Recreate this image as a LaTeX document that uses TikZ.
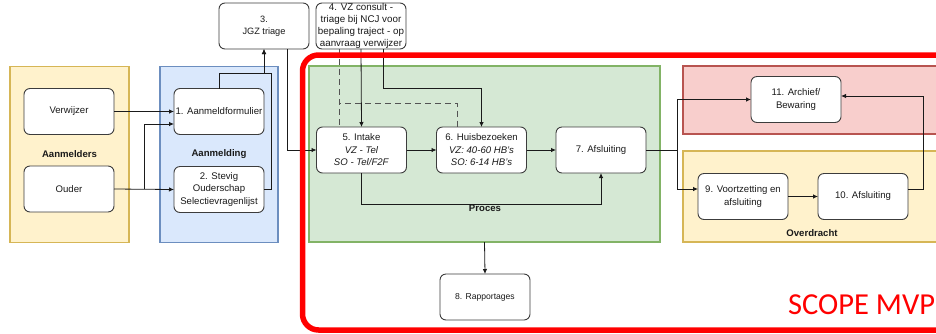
\documentclass[tikz,border=0pt]{standalone}
\usepackage{fontspec}
\setmainfont{Liberation Sans}
\newfontfamily\scopefont{Carlito}
\usetikzlibrary{arrows.meta,calc}
\definecolor{ylfill}{HTML}{FFF2CC}
\definecolor{yldraw}{HTML}{D6B656}
\definecolor{blfill}{HTML}{DAE8FC}
\definecolor{bldraw}{HTML}{6C8EBF}
\definecolor{grfill}{HTML}{D5E8D4}
\definecolor{grdraw}{HTML}{82B366}
\definecolor{rdfill}{HTML}{F8CECC}
\definecolor{rddraw}{HTML}{B85450}
\definecolor{scopered}{HTML}{FF0000}
\definecolor{ink}{HTML}{1A1A1A}
\tikzset{
  box/.style={draw=ink!85, line width=0.9pt, fill=white, rounded corners=6pt,
    minimum width=90pt, minimum height=46pt, inner sep=0pt, outer sep=0pt,
    align=center, text=ink, font=\fontsize{9.6}{12.5}\selectfont},
  container/.style={line width=1.5pt, inner sep=0pt, outer sep=0pt},
  grouplabel/.style={font=\bfseries\fontsize{9.6}{12}\selectfont, text=ink},
  conn/.style={draw=ink, line width=0.8pt, -{Latex[length=5pt,width=4.5pt]}},
  dashconn/.style={draw=ink!75, line width=0.8pt, dash pattern=on 6pt off 4pt},
}
\begin{document}
\begin{tikzpicture}[x=1pt,y=-1pt]
\useasboundingbox (0,0) rectangle (936,333);
\clip (0,0) rectangle (936,333);
% containers
\node[container, draw=yldraw, fill=ylfill, minimum width=119pt, minimum height=176pt] (aanmelders) at (69.5,154.5) {};
\node[container, draw=bldraw, fill=blfill, minimum width=118pt, minimum height=176pt] (aanmelding) at (219,154.5) {};
\node[container, draw=grdraw, fill=grfill, minimum width=351pt, minimum height=176pt] (proces) at (484.5,154) {};
\node[container, draw=rddraw, fill=rdfill, minimum width=262pt, minimum height=68pt] (archief) at (814,100) {};
\node[container, draw=yldraw, fill=ylfill, minimum width=262pt, minimum height=91pt] (overdracht) at (814,196.5) {};
% group labels
\node[grouplabel] (lblaanmelders) at (69.5,154) {Aanmelders};
\node[grouplabel] (lblaanmelding) at (219,154) {Aanmelding};
\node[grouplabel] (lblproces) at (485,208.5) {Proces};
\node[grouplabel] (lbloverdracht) at (812,233) {Overdracht};
% boxes
\node[box] (verwijzer) at (69,111.5) {Verwijzer};
\node[box] (ouder) at (69,189) {Ouder};
\node[box] (b1) at (219,111.5) {1. Aanmeldformulier};
\node[box] (b2) at (219,189.5) {2. Stevig\\Ouderschap\\Selectievragenlijst};
\node[box, font=\fontsize{9.2}{12}\selectfont] (b3) at (264,26) {3.\\JGZ triage};
\node[box, font=\fontsize{9.8}{12}\selectfont] (b4) at (361,26) {4. VZ consult -\\triage bij NCJ voor\\bepaling traject - op\\aanvraag verwijzer};
\node[box] (b5) at (361.5,150) {5. Intake\\\textit{VZ - Tel}\\\textit{SO - Tel/F2F}};
\node[box] (b6) at (481.5,150) {6. Huisbezoeken\\\textit{VZ: 40-60 HB's}\\\textit{SO: 6-14 HB's}};
\node[box] (b7) at (601,150) {7. Afsluiting};
\node[box, font=\fontsize{8.6}{11}\selectfont] (b8) at (485,297) {8. Rapportages};
\node[box] (b9) at (743,196.5) {9. Voortzetting en\\afsluiting};
\node[box] (b10) at (863,196.5) {10. Afsluiting};
\node[box] (b11) at (796,99.5) {11. Archief/\\Bewaring};
% connectors
\coordinate (j1) at (264,73);
\coordinate (j2) at (271,73);
\coordinate (s1) at (144,189);
\draw[conn] (verwijzer.east) -- (b1.west);
\draw[conn] (ouder.east) -- (b2.west);
\draw[conn] (s1) |- ([yshift=-12.5pt]b1.west);
\draw[conn] (b1.north) |- (j1) -- (b3.south);
\draw[conn] (b2.east) -| (j2) -- (j1) -- (b3.south);
\draw[conn] ([xshift=23pt]b3.south) |- (b5.west);
\draw[conn] (b4.south) -- (b5.north);
\draw[conn] ([xshift=22pt]b4.south) -- ++(0,39) -| (b6.north);
\draw[dashconn] ([xshift=-22pt]b4.south) -- ([xshift=-22.5pt]b5.north);
\draw[dashconn] ([xshift=-22pt]b4.south) -- ++(0,54) -| ([xshift=-24pt]b6.north);
\draw[conn] (b5.east) -- (b6.west);
\draw[conn] (b6.east) -- (b7.west);
\draw[conn] (b5.south) -- ++(0,31) -| (b7.south);
\draw[conn] (b7.east) -- ++(31,0) |- (b11.west);
\draw[conn] (b7.east) -- ++(31,0) |- ([yshift=7.5pt]b9.west);
\draw[conn] (b9.east) -- (b10.west);
\draw[conn] ([yshift=7.5pt]b10.east) -- ++(15,0) |- ([yshift=3.5pt]b11.east);
\draw[conn] (proces.south) -- (b8.north);
% scope frame
\draw[draw=scopered, line width=5.5pt, rounded corners=16pt] (302.5,55) rectangle (960,330);
\node[anchor=base west, inner sep=0pt, text=scopered, font=\scopefont\fontsize{30.5}{30.5}\selectfont] (scope) at (788,314) {SCOPE MVP};
\end{tikzpicture}
\end{document}
